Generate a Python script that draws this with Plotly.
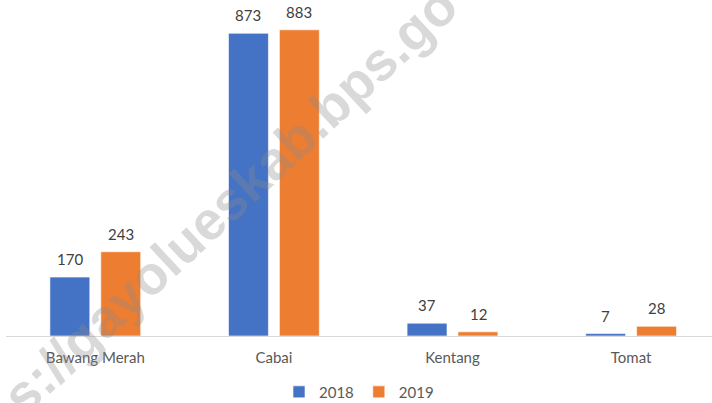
import plotly.graph_objects as go

categories = ["Bawang Merah", "Cabai", "Kentang", "Tomat"]
years = ["2018", "2019"]
values_2018 = [170, 873, 37, 7]
values_2019 = [243, 883, 12, 28]

colors = {"2018": "#4472C4", "2019": "#ED7D31"}
font_family = "Lato, Open Sans, sans-serif"

fig = go.Figure()
for year, vals in zip(years, [values_2018, values_2019]):
    fig.add_trace(go.Bar(
        x=categories, y=vals, name=year,
        marker=dict(color=colors[year], line=dict(color="white", width=0.6)),
        hoverinfo="x+y+name",
    ))

# data labels above bars
offsets = {"2018": -25.5, "2019": 25.5}
for year, vals in zip(years, [values_2018, values_2019]):
    for c, v in zip(categories, vals):
        fig.add_annotation(
            x=c, y=v, xref="x", yref="y", text=str(v), showarrow=False,
            xshift=offsets[year], yshift=7, yanchor="bottom",
            font=dict(family=font_family, size=15, color="#404040"),
        )

# watermark
fig.add_annotation(
    x=0.317, y=0.405, xref="paper", yref="paper", xanchor="center", yanchor="middle",
    text="<b>s://gayolueskab.bps.go</b>", showarrow=False,
    textangle=-43, font=dict(family="Liberation Sans, Arial, sans-serif", size=54,
                             color="rgba(140,140,140,0.33)"),
)

fig.update_layout(
    width=712, height=403,
    margin=dict(l=6, r=0, t=0, b=67, autoexpand=False),
    paper_bgcolor="white", plot_bgcolor="white",
    barmode="group", bargap=0.43, bargroupgap=0.216,
    font=dict(family=font_family, size=15, color="#595959"),
    legend=dict(orientation="h", x=0.5, xanchor="center", y=-0.167, yanchor="middle",
                font=dict(size=15, color="#595959"), itemwidth=30, traceorder="normal"),
    showlegend=True,
)
fig.update_xaxes(range=[-0.5, 3.453], showline=True, linecolor="#D9D9D9", linewidth=1,
                 ticks="outside", ticklen=8, tickcolor="rgba(0,0,0,0)", automargin=False,
                 showgrid=False, tickfont=dict(size=15, color="#595959"))
fig.update_yaxes(range=[0, 969], visible=False, showgrid=False, zeroline=False,
                 automargin=False)

fig.write_html("out.html", config={"displayModeBar": False},
               post_script="document.body.style.margin='0';")
